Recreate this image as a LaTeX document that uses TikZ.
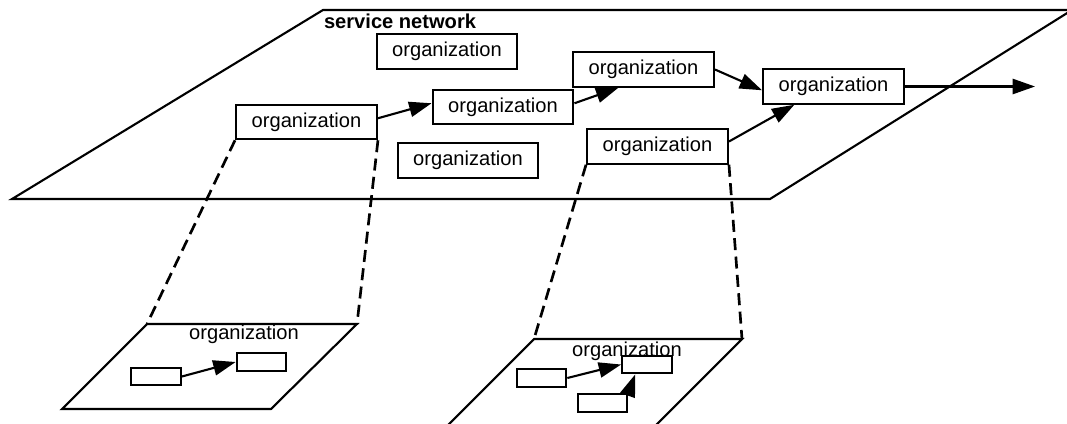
\documentclass[tikz,border=0pt]{standalone}
\usepackage{fontspec}
\setmainfont{Liberation Sans}
\usepackage{tikz}
\usetikzlibrary{arrows.meta, positioning}

\begin{document}
\begin{tikzpicture}[
    x=0.025cm, y=-0.025cm,
    line width=1.5pt,
    font=\fontsize{14.3}{16}\selectfont,
    org/.style={draw, fill=white, inner sep=0pt, minimum width=3.52cm, minimum height=0.86cm},
    unit/.style={draw, fill=white, inner sep=0pt, minimum width=1.24cm, minimum height=0.44cm},
    flow/.style={-{Triangle[length=0.56cm, width=0.38cm]}},
    zoomline/.style={line width=1.9pt, dash pattern=on 0.3cm off 0.16cm}
]
    \useasboundingbox (0,0) rectangle (1067,423);
    \clip (0,0) rectangle (1067,423);

    % Planes
    \draw (12,199) -- (770,199) -- (1072,10) -- (323,10) -- cycle;
    \node[anchor=base west, inner sep=0pt, font=\fontsize{14.3}{16}\selectfont\bfseries] (net) at (323,28) {service network};

    \coordinate (s1nw) at (147,324);
    \coordinate (s1ne) at (357,324);
    \draw (s1nw) -- (s1ne) -- (271,409) -- (62,409) -- cycle;
    \node[anchor=base, inner sep=0pt] (lbl1) at (244,339) {organization};

    \coordinate (s2nw) at (534,339);
    \coordinate (s2ne) at (742,339);
    \draw (s2nw) -- (s2ne) -- (654,427) -- (446,427) -- cycle;
    \node[anchor=base, inner sep=0pt] (lbl2) at (627,356) {organization};

    % Organizations
    \node[org] (orgtop) at (447,51.5) {organization};
    \node[org] (orgin) at (306.5,122) {organization};
    \node[org] (orgmid) at (503,107) {organization};
    \node[org] (orgup) at (643.5,69.5) {organization};
    \node[org] (orgout) at (833.5,86.5) {organization};
    \node[org] (orglow) at (468,160.5) {organization};
    \node[org] (orgside) at (657.5,146.5) {organization};
    \coordinate (exit) at (1035,86.5);

    % Inner units
    \node[unit] (u1a) at (156,376.5) {};
    \node[unit] (u1b) at (261.5,362) {};
    \node[unit] (u2a) at (541.5,378) {};
    \node[unit] (u2b) at (647,364.5) {};
    \node[unit] (u2c) at (602.5,403) {};

    % Zoom lines
    \draw[zoomline] (orgin.south west) -- (s1nw);
    \draw[zoomline] (orgin.south east) -- (s1ne);
    \draw[zoomline] (orgside.south west) -- (s2nw);
    \draw[zoomline] (orgside.south east) -- (s2ne);

    % Flows
    \draw[flow] (orgin.3) -- (orgmid.177);
    \draw[flow] (orgmid.3) -- (orgup.216.7);
    \draw[flow] (orgup.east) -- (orgout.183);
    \draw[flow] (orgside.4) -- (orgout.205);
    \draw[flow] (orgout.east) -- (exit);
    \draw[flow] (u1a.east) -- (u1b.west);
    \draw[flow] (u2a.east) -- (u2b.west);
    \draw[flow] (u2c.north east) -- (u2b.220);
\end{tikzpicture}
\end{document}
